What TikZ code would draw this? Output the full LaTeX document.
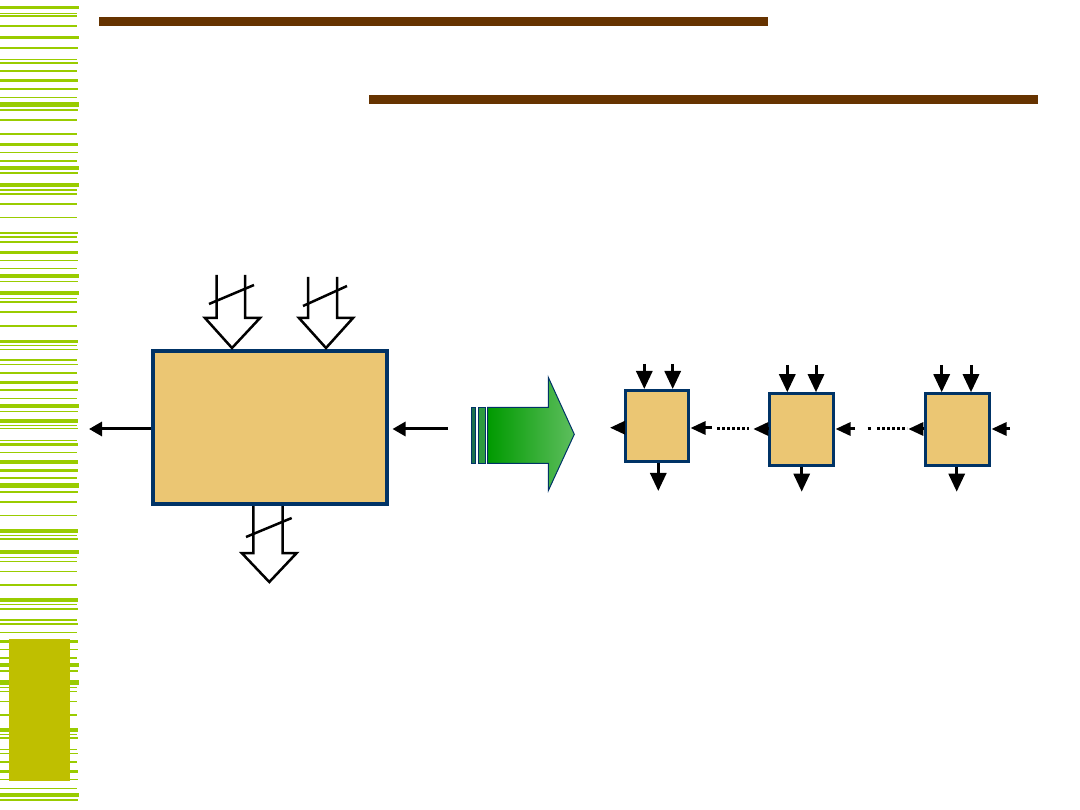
\documentclass[tikz,border=0pt]{standalone}
\usetikzlibrary{arrows.meta}
\definecolor{stripe}{HTML}{99CC00}
\definecolor{olive}{HTML}{BFBF00}
\definecolor{brownline}{HTML}{663300}
\definecolor{boxfill}{HTML}{EBC673}
\definecolor{boxline}{HTML}{003366}
\definecolor{gdark}{HTML}{009A00}
\definecolor{glight}{HTML}{5EBE5E}
\definecolor{gbar}{HTML}{2E9B3E}
\begin{document}
\begin{tikzpicture}[x=1pt,y=-1pt,
  blockbox/.style={draw=boxline,fill=boxfill,line width=4pt,inner sep=0pt,minimum width=234pt,minimum height=153pt},
  smallbox/.style={draw=boxline,fill=boxfill,line width=3pt,inner sep=0pt,minimum width=63pt,minimum height=71pt},
  bigarr/.style={line width=3pt,-{Triangle[length=13pt,width=14pt]}},
  sarr/.style={line width=3pt,-{Triangle[length=18pt,width=16pt]}},
  sideiarr/.style={line width=3pt,-{Triangle[length=15pt,width=13pt]}},
  hollow/.style={line width=2.5pt,line join=miter},
  dots/.style={line width=3pt,dash pattern=on 3pt off 2pt}]
\useasboundingbox (0,0) rectangle (1080,810);
% left stripes
\foreach \t/\h/\r in {6/3.5/79,13/1.3/77,15.3/1.7/77,25.3/1.5/77,36/3.5/79,47.3/2/78,59/1.3/77,62/2.3/78,70.3/1.5/77,79/3.3/78,88/2.3/78,96.6/1.5/77,102/4.7/79,109.3/1.5/78,119.3/1.5/77,133.5/1.3/77,143/2.7/78,151.6/1.5/78,160.5/1.3/77,166/3.7/79,172.3/1.5/78,183/4.3/79,189.5/1.3/77,193.5/1.3/77,203.5/1.3/77,216.6/1.5/77,232/2.3/78,236.5/1.3/77,240.7/2/78,251/2.7/78,259.6/1.5/78,268.2/1.3/77,274/3.7/79,281/1.5/78,291/4.3/79,297.8/1.3/77,301.5/1.3/77,311.5/1.3/77,325.5/1.3/77,340/2.7/78,344.8/1.3/77,348.6/1.5/78,359.3/1.5/77,363.6/1.5/78,372.5/1.3/77,381/2.7/78,389.3/1.5/78,398.2/1.3/77,404/3.7/79,411/1.5/78,419/4/78,424.8/1.3/77,428/1.5/78,439.8/1.3/77,443/2.7/78,452/1.5/77,460/3.7/78,469/2.7/78,477.5/1.3/77,483/4.7/79,491/1.5/78,501/1.5/77,514.8/1.3/77,529/3.7/78,534.8/1.3/77,538/1.5/78,550/4.3/79,556.8/1.3/77,560.8/1.3/77,570.8/1.3/77,584/1.5/77,598/3.7/78,603.5/1.3/77,608/1.5/78,619/1.5/77,623/1.5/78,631.5/1.3/77,640/3/78,648.6/1.5/78,657/1.5/77,663/4/79,670/1.5/78,680/5/79,686.8/1.3/77,690.8/1.3/77,700.8/1.3/77,714/1.5/77,728/4/78,733.5/1.3/77,737.3/1.5/78,748.8/1.3/77,752.6/1.5/78,761.2/1.3/77,769.7/3.3/78,778.6/1.5/78,787.8/1.3/77,793/4/79,799.3/1.5/78}
  {\fill[stripe] (0,\t) rectangle (\r,\t+\h);}
\fill[olive] (9,639) rectangle (70,781);
% title rules
\fill[brownline] (99,17.3) rectangle (768,26.3);
\fill[brownline] (369,95) rectangle (1037.5,104);
% main block
\node[blockbox] (big) at (270,427.5) {};
% hollow bus arrows
\draw[hollow] (216.7,275) -- (216.7,318) -- (205,318) -- (232,348) -- (260,318) -- (245,318) -- (245,275);
\draw[hollow] (209,304) -- (254,285);
\draw[hollow] (308,277) -- (308,318) -- (299,318) -- (326,348) -- (353,318) -- (337,318) -- (337,277);
\draw[hollow] (303,306) -- (347,286);
\draw[hollow] (253.3,506) -- (253.3,553) -- (241.7,553) -- (269.3,582) -- (296.7,553) -- (282.7,553) -- (282.7,506);
\draw[hollow] (246,537) -- (291.7,518);
% side arrows of main block
\coordinate (bigout) at (89,429);
\coordinate (bigin) at (448,429);
\coordinate (bigintip) at (392.5,429);
\draw[bigarr] (big.west |- bigout) -- (bigout);
\draw[bigarr] (bigin) -- (bigintip);
% green arrow
\fill[gbar!60!boxline,draw=boxline,line width=1pt] (471.7,407.3) rectangle (475,463.3);
\fill[gbar,draw=boxline,line width=1pt] (478.3,407.3) rectangle (485.7,463.3);
\path[left color=gdark,right color=glight,draw=boxline,line width=1pt]
  (487.7,407.3) -- (548.3,407.3) -- (548.3,377.3) -- (574.3,434.3) -- (548.3,490.7) -- (548.3,463.3) -- (487.7,463.3) -- cycle;
% small blocks
\node[smallbox] (b1) at (657,426) {};
\node[smallbox,minimum width=63.5pt,minimum height=71.5pt] (b2) at (801.5,429.5) {};
\node[smallbox,minimum width=63.5pt,minimum height=71.5pt] (b3) at (957.5,429.5) {};
% block 1 arrows
\coordinate (b1a) at (644.3,364);
\coordinate (b1b) at (672.7,364);
\coordinate (b1d) at (658.3,491);
\coordinate (b1l) at (610,427.7);
\coordinate (b1r) at (712,428);
\coordinate (b1rt) at (690.5,428);
\draw[sarr] (b1a) -- (b1a |- b1.north);
\draw[sarr] (b1b) -- (b1b |- b1.north);
\draw[sarr] (b1d |- b1.south) -- (b1d);
\draw[sideiarr] (b1.west |- b1l) -- (b1l);
\draw[sideiarr] (b1r) -- (b1rt);
% block 2 arrows
\coordinate (b2a) at (787.3,365);
\coordinate (b2b) at (816,365);
\coordinate (b2d) at (801.7,491.7);
\coordinate (b2l) at (753.3,429);
\coordinate (b2r) at (855,429);
\coordinate (b2rt) at (835.5,429);
\draw[sarr] (b2a) -- (b2a |- b2.north);
\draw[sarr] (b2b) -- (b2b |- b2.north);
\draw[sarr] (b2d |- b2.south) -- (b2d);
\draw[sideiarr] (b2.west |- b2l) -- (b2l);
\draw[sideiarr] (b2r) -- (b2rt);
% block 3 arrows
\coordinate (b3a) at (941.7,365);
\coordinate (b3b) at (971,365);
\coordinate (b3d) at (956.7,491.7);
\coordinate (b3l) at (908.3,429);
\coordinate (b3r) at (1010,429);
\coordinate (b3rt) at (991.5,429);
\draw[sarr] (b3a) -- (b3a |- b3.north);
\draw[sarr] (b3b) -- (b3b |- b3.north);
\draw[sarr] (b3d |- b3.south) -- (b3d);
\draw[sideiarr] (b3.west |- b3l) -- (b3l);
\draw[sideiarr] (b3r) -- (b3rt);
% dotted continuations
\coordinate (d1a) at (717,429);
\coordinate (d1b) at (749,429);
\draw[dots] (d1a) -- (d1b);
\coordinate (d2a) at (867.5,429);
\coordinate (d2b) at (871,429);
\coordinate (d2c) at (877,429);
\coordinate (d2d) at (907,429);
\draw[line width=3pt] (d2a) -- (d2b);
\draw[dots] (d2c) -- (d2d);
\end{tikzpicture}
\end{document}
